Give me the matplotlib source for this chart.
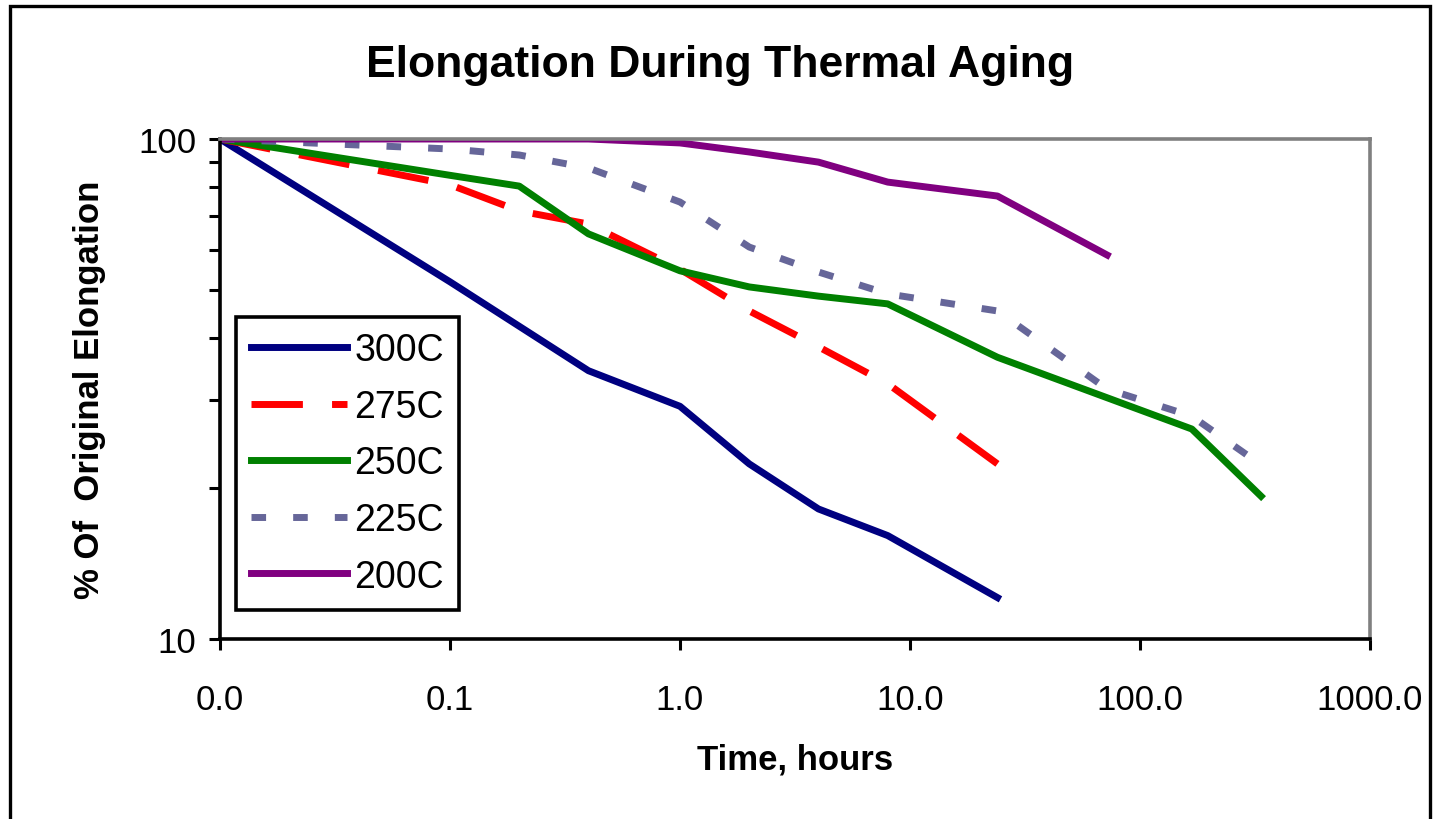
import matplotlib
matplotlib.use("Agg")
import matplotlib.pyplot as plt
from matplotlib.patches import Rectangle
from matplotlib.ticker import FixedLocator, LogLocator, NullFormatter, FixedFormatter

plt.rcParams['font.family'] = ['Liberation Sans', 'DejaVu Sans']

# ---- data (time "0" plotted at 0.01 on the log axis) ----
t_300 = [0.01, 0.1, 0.4, 1, 2, 4, 8, 24]
v_300 = [100, 51.8, 34.4, 29.2, 22.4, 18.2, 16.1, 12.1]

t_275 = [0.01, 0.1, 0.2, 0.4, 1, 2, 4, 8, 24]
v_275 = [100, 81.0, 71.8, 67.6, 54.9, 45.3, 38.4, 32.4, 22.4]

t_250 = [0.01, 0.1, 0.2, 0.4, 1, 2, 4, 8, 24, 168, 336]
v_250 = [100, 84.6, 80.5, 64.6, 54.5, 50.6, 48.5, 46.8, 36.6, 26.3, 19.3]

t_225 = [0.01, 0.1, 0.2, 0.4, 1, 2, 4, 8, 24, 72, 168, 336]
v_225 = [100, 95.5, 92.9, 87.5, 74.8, 60.8, 54.2, 49.0, 45.3, 31.6, 27.9, 22.3]

t_200 = [0.01, 0.1, 0.2, 0.4, 1, 2, 4, 8, 24, 72]
v_200 = [100, 100, 100, 100, 98.2, 94.2, 89.9, 82.0, 76.9, 58.6]

labels = ["300C", "275C", "250C", "225C", "200C"]
x_ticks = [0.01, 0.1, 1, 10, 100, 1000]
x_tick_labels = ["0.0", "0.1", "1.0", "10.0", "100.0", "1000.0"]
y_ticks = [10, 100]
y_tick_labels = ["10", "100"]

W, H = 1439, 820
fig = plt.figure(figsize=(W / 100, H / 100), dpi=100)
ax = fig.add_axes([220 / W, 1 - 640 / H, 1150 / W, 500 / H])

lw = 5.0
ax.plot(t_300, v_300, color="#000080", lw=lw, solid_joinstyle="round", label=labels[0])
ax.plot(t_275, v_275, color="#FF0000", lw=lw, dashes=(7.4, 4.2), dash_capstyle="butt", label=labels[1])
ax.plot(t_250, v_250, color="#008000", lw=lw, solid_joinstyle="round", label=labels[2])
ax.plot(t_225, v_225, color="#666699", lw=lw, dashes=(2.1, 3.9), dash_capstyle="butt", label=labels[3])
ax.plot(t_200, v_200, color="#800080", lw=lw, solid_joinstyle="round", label=labels[4])

ax.set_xscale("log")
ax.set_yscale("log")
ax.set_xlim(0.01, 1000)
ax.set_ylim(10, 100)

ax.xaxis.set_major_locator(FixedLocator(x_ticks))
ax.xaxis.set_major_formatter(FixedFormatter(x_tick_labels))
ax.xaxis.set_minor_locator(FixedLocator([]))
ax.yaxis.set_major_locator(FixedLocator(y_ticks))
ax.yaxis.set_major_formatter(FixedFormatter(y_tick_labels))
ax.yaxis.set_minor_locator(LogLocator(base=10, subs=range(2, 10)))
ax.yaxis.set_minor_formatter(NullFormatter())

ax.tick_params(axis="x", which="major", direction="out", length=8, width=2.2,
               labelsize=25, pad=24, color="black")
ax.tick_params(axis="y", which="both", direction="out", length=8, width=2.2,
               labelsize=25, pad=9, color="black")

for s in ["left", "bottom"]:
    ax.spines[s].set_color("black")
    ax.spines[s].set_linewidth(2.6)
for s in ["top", "right"]:
    ax.spines[s].set_color("#808080")
    ax.spines[s].set_linewidth(2.6)

ax.set_xlabel("Time, hours", fontsize=25, fontweight="bold", va="center")
ax.xaxis.set_label_coords(0.5, (640 - 760) / 500)
ax.set_ylabel("% Of  Original Elongation", fontsize=25, fontweight="bold", va="center")
ax.yaxis.set_label_coords((90 - 220) / 1150, 0.5)

fig.text(720 / W, 1 - 65 / H, "Elongation During Thermal Aging", fontsize=32,
         fontweight="bold", ha="center", va="center")

leg = ax.legend(loc="upper left", bbox_to_anchor=((236 - 220) / 1150, (640 - 318) / 500),
                borderaxespad=0, fontsize=27, handlelength=2.55, handletextpad=0.2,
                labelspacing=0.55, borderpad=0.4, fancybox=False, framealpha=1)
leg.get_frame().set_edgecolor("black")
leg.get_frame().set_linewidth(2.6)

fig.patches.append(Rectangle((10 / W, -0.01), (1430 - 10) / W, 1.0 - 7 / H + 0.01,
                             transform=fig.transFigure, fill=False, edgecolor="black",
                             linewidth=2.4, zorder=-1))

fig.savefig("out.png", dpi=100)
